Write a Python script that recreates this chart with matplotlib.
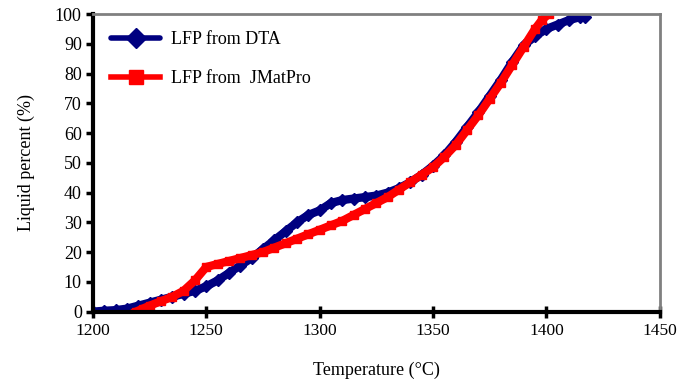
import numpy as np
import matplotlib.pyplot as plt

# LFP from DTA
t_dta = [1200, 1205, 1210, 1215, 1220, 1225, 1230, 1235, 1240, 1245, 1250,
         1255, 1260, 1265, 1270, 1275, 1280, 1285, 1290, 1295, 1300, 1305,
         1310, 1315, 1320, 1325, 1330, 1335, 1340, 1345, 1350, 1355, 1360,
         1365, 1370, 1375, 1380, 1385, 1390, 1395, 1400, 1405, 1410, 1415, 1417]
lfp_dta = [0, 0.3, 0.5, 1, 2, 3, 4, 5, 6, 7, 8.5,
           10.5, 13, 15.5, 18, 21, 24, 27, 30, 32.5, 34, 36.5,
           37.5, 38, 38.5, 39, 40, 41.5, 43.5, 46, 49, 52.5, 57,
           62, 67, 72.5, 78, 84, 89.5, 92.5, 95, 96.5, 98, 99, 99]

# LFP from JMatPro
t_jmp = [1219, 1222, 1225, 1230, 1235, 1240, 1245, 1250, 1255, 1260, 1265,
         1270, 1275, 1280, 1285, 1290, 1295, 1300, 1305, 1310, 1315, 1320,
         1325, 1330, 1335, 1340, 1345, 1350, 1355, 1360, 1365, 1370, 1375,
         1380, 1385, 1390, 1395, 1398, 1401]
lfp_jmp = [0, 1, 2, 3.5, 5, 7, 10.5, 15, 16, 17, 18,
           19, 20, 21.5, 23, 24.5, 26, 27.5, 29, 30.5, 32.5, 34.5,
           36.5, 38.5, 41, 43.5, 46, 48.5, 52, 56, 61, 66, 71.5,
           77, 83, 89, 95, 98, 100]

plt.rcParams['font.family'] = ['Liberation Serif', 'DejaVu Serif']

fig = plt.figure(figsize=(6.78, 3.81), dpi=100)
ax = fig.add_axes([0.137, 0.182, 0.836, 0.781])

ax.plot(t_dta, lfp_dta, color='#000080', lw=6, marker='D', ms=6,
        label='LFP from DTA', solid_capstyle='round')
ax.plot(t_jmp, lfp_jmp, color='#ff0000', lw=6, marker='s', ms=6,
        label='LFP from  JMatPro')

ax.set_xlim(1200, 1450)
ax.set_ylim(0, 100)
ax.set_xticks(np.arange(1200, 1451, 50))
ax.set_yticks(np.arange(0, 101, 10))

for s in ['left', 'bottom']:
    ax.spines[s].set_linewidth(3)
    ax.spines[s].set_color('black')
for s in ['top', 'right']:
    ax.spines[s].set_linewidth(2)
    ax.spines[s].set_color('#808080')

ax.tick_params(axis='y', direction='out', length=5, width=2.5,
               labelsize=13, pad=3)
ax.tick_params(axis='x', direction='inout', length=9, width=2.5,
               labelsize=12.5, pad=4)

ax.set_xlabel('Temperature (°C)', fontsize=13, labelpad=16)
ax.set_ylabel('Liquid percent (%)', fontsize=13, labelpad=14)

leg = ax.legend(loc='upper left', frameon=False, fontsize=13, handlelength=2.7,
                labelspacing=1.2, borderaxespad=0.3, handletextpad=0.6,
                bbox_to_anchor=(0.01, 0.985), markerscale=1.7)
for h in leg.legend_handles:
    h.set_linewidth(4)

fig.savefig('out.png', dpi=100)
